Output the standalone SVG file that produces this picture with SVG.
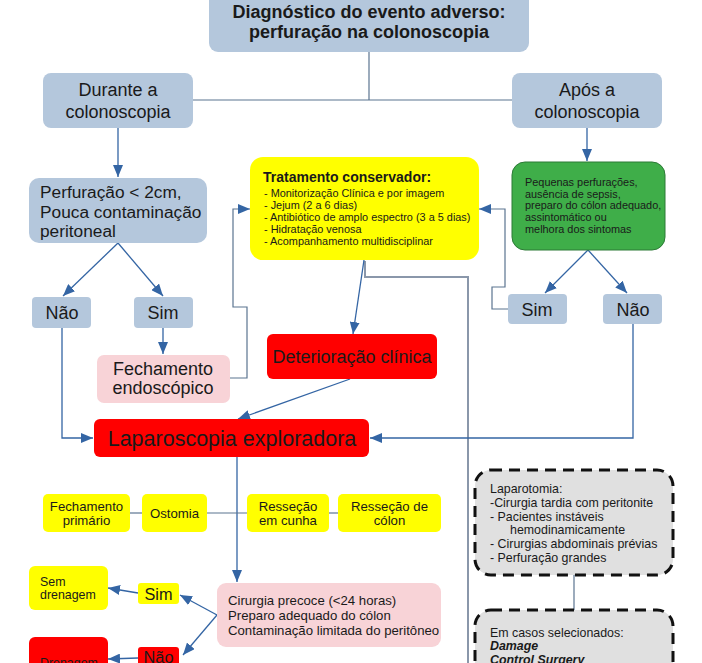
<svg xmlns="http://www.w3.org/2000/svg" width="702" height="663" viewBox="0 0 702 663">
<style>
text{font-family:"Liberation Sans",Arial,sans-serif;fill:#1a1a1a}
.gb{fill:#b4c7dc}
.yl{fill:#ffff00}
.rd{fill:#ff0000}
.pk{fill:#f8d3d7}
.c{text-anchor:middle}
.t18{font-size:18px}
.t13{font-size:13.2px}
.t11{font-size:10.9px}
.t12{font-size:12.4px}
.ln{fill:none;stroke:#3465a4;stroke-width:1.3}
.gl{fill:none;stroke:#5b7490;stroke-width:1.2}
.ar{marker-end:url(#ah)}
.dash{fill:#e0e0e0;stroke:#111;stroke-width:3;stroke-dasharray:11 7}
</style>
<defs>
<marker id="ah" markerUnits="userSpaceOnUse" markerWidth="13" markerHeight="10" refX="12" refY="5" orient="auto">
<path d="M0,0 L12,5 L0,10 z" fill="#3465a4"/>
</marker>
</defs>
<rect width="702" height="663" fill="#ffffff"/>
<g id="connectors">
<polyline class="gl" points="369,52 369,100"/>
<polyline class="gl" points="193,100 512,100"/>
<line class="ln ar" x1="118" y1="128" x2="118" y2="177"/>
<line class="ln ar" x1="118" y1="243" x2="63" y2="296"/>
<line class="ln ar" x1="118" y1="243" x2="163" y2="296"/>
<line class="ln ar" x1="163" y1="328" x2="163" y2="354"/>
<polyline class="ln ar" points="62,328 62,438 93,438"/>
<polyline class="gl ar" points="230,378 247,378 247,307 233,307 233,209 250,209"/>
<polyline fill="none" stroke="#8a97aa" stroke-width="2" points="365,261 365,277 468,277 468,670"/>
<line class="ln ar" x1="364" y1="260" x2="353" y2="334"/>
<line class="ln ar" x1="350" y1="379" x2="238" y2="419"/>
<line class="ln ar" x1="587" y1="128" x2="587" y2="161"/>
<line class="ln ar" x1="588" y1="250" x2="545" y2="293"/>
<line class="ln ar" x1="588" y1="250" x2="627" y2="293"/>
<polyline class="gl ar" points="508,309 492,309 492,287 505,287 505,209 479,209"/>
<polyline class="ln ar" points="633,324 633,438 370,438"/>
<line class="ln ar" x1="237" y1="457" x2="237" y2="582"/>
<line class="gl" x1="207" y1="513" x2="247" y2="513"/>
<line class="gl" x1="130" y1="513" x2="142" y2="513"/>
<line class="gl" x1="329" y1="513" x2="338" y2="513"/>
<line class="ln ar" x1="217" y1="615" x2="180" y2="595"/>
<line class="ln ar" x1="217" y1="615" x2="183" y2="655"/>
<line class="ln ar" x1="138" y1="593" x2="108" y2="588"/>
<line class="ln ar" x1="138" y1="658" x2="108" y2="659"/>
<line class="gl" x1="574" y1="575" x2="574" y2="610"/>
</g>
<g id="title">
<rect class="gb" x="209" y="-12" width="320" height="64" rx="9"/>
<text class="c" x="369" y="18" font-size="18" font-weight="bold">Diagnóstico do evento adverso:</text>
<text class="c" x="369" y="38" font-size="18" font-weight="bold">perfuração na colonoscopia</text>
</g>
<g id="durante">
<rect class="gb" x="43" y="73" width="150" height="55" rx="8"/>
<text class="c t18" x="118" y="96">Durante a</text>
<text class="c t18" x="118" y="118">colonoscopia</text>
</g>
<g id="apos">
<rect class="gb" x="512" y="73" width="150" height="55" rx="8"/>
<text class="c t18" x="587" y="96">Após a</text>
<text class="c t18" x="587" y="118">colonoscopia</text>
</g>
<g id="perfuracao">
<rect class="gb" x="29" y="178" width="178" height="65" rx="10"/>
<text x="40" y="198" font-size="17.3">Perfuração &lt; 2cm,</text>
<text x="40" y="218" font-size="17.3">Pouca contaminação</text>
<text x="40" y="237" font-size="17.3">peritoneal</text>
</g>
<g id="nao1">
<rect class="gb" x="32" y="297" width="59" height="31" rx="4"/>
<text class="c t18" x="62" y="319">Não</text>
</g>
<g id="sim1">
<rect class="gb" x="134" y="297" width="59" height="31" rx="4"/>
<text class="c t18" x="163" y="319">Sim</text>
</g>
<g id="fechamento-endoscopico">
<rect class="pk" x="97" y="355" width="133" height="48" rx="7"/>
<text class="c t18" x="163" y="375">Fechamento</text>
<text class="c t18" x="163" y="394">endoscópico</text>
</g>
<g id="tratamento">
<rect class="yl" x="250" y="157" width="229" height="103" rx="13"/>
<text x="263" y="182" font-size="14" font-weight="bold">Tratamento conservador:</text>
<text class="t11" x="264" y="197">- Monitorização Clínica e por imagem</text>
<text class="t11" x="264" y="209">- Jejum (2 a 6 dias)</text>
<text class="t11" x="264" y="221">- Antibiótico de amplo espectro (3 a 5 dias)</text>
<text class="t11" x="264" y="233">- Hidratação venosa</text>
<text class="t11" x="264" y="245">- Acompanhamento multidisciplinar</text>
</g>
<g id="deterioracao">
<rect class="rd" x="267" y="334" width="170" height="45" rx="6"/>
<text class="c t18" x="352" y="363">Deterioração clínica</text>
</g>
<g id="criterios">
<rect x="512" y="162" width="153" height="88" rx="13" fill="#3fae49" stroke="#2c7a36" stroke-width="1"/>
<text class="t11" x="525" y="186">Pequenas perfurações,</text>
<text class="t11" x="525" y="197.5">ausência de sepsis,</text>
<text class="t11" x="525" y="209">preparo do cólon adequado,</text>
<text class="t11" x="525" y="221">assintomático ou</text>
<text class="t11" x="525" y="233">melhora dos sintomas</text>
</g>
<g id="sim2">
<rect class="gb" x="508" y="294" width="59" height="30" rx="4"/>
<text class="c t18" x="537" y="316">Sim</text>
</g>
<g id="nao2">
<rect class="gb" x="603" y="294" width="59" height="30" rx="4"/>
<text class="c t18" x="633" y="316">Não</text>
</g>
<g id="laparoscopia">
<rect class="rd" x="94" y="419" width="275" height="38" rx="6"/>
<text class="c" x="232" y="446" font-size="21.5">Laparoscopia exploradora</text>
</g>
<g id="fechamento-primario">
<rect class="yl" x="43" y="494" width="87" height="38" rx="5"/>
<text class="c t13" x="86.5" y="511">Fechamento</text>
<text class="c t13" x="86.5" y="525">primário</text>
</g>
<g id="ostomia">
<rect class="yl" x="142" y="494" width="65" height="38" rx="5"/>
<text class="c t13" x="174.5" y="518">Ostomia</text>
</g>
<g id="ressecao-cunha">
<rect class="yl" x="247" y="494" width="82" height="38" rx="5"/>
<text class="c t13" x="288" y="511">Resseção</text>
<text class="c t13" x="288" y="525">em cunha</text>
</g>
<g id="ressecao-colon">
<rect class="yl" x="338" y="494" width="103" height="38" rx="5"/>
<text class="c t13" x="389.5" y="511">Resseção de</text>
<text class="c t13" x="389.5" y="525">cólon</text>
</g>
<g id="cirurgia">
<rect class="pk" x="217" y="583" width="224" height="64" rx="9"/>
<text class="t13" x="228" y="605">Cirurgia precoce (&lt;24 horas)</text>
<text class="t13" x="228" y="620">Preparo adequado do cólon</text>
<text class="t13" x="228" y="635">Contaminação limitada do peritôneo</text>
</g>
<g id="sim3">
<rect class="yl" x="138" y="583" width="41" height="21" rx="3"/>
<text class="c" x="158.5" y="600" font-size="16.3">Sim</text>
</g>
<g id="sem-drenagem">
<rect class="yl" x="29" y="566" width="79" height="44" rx="6"/>
<text class="t12" x="40" y="586">Sem</text>
<text class="t12" x="40" y="599">drenagem</text>
</g>
<g id="nao3">
<rect class="rd" x="138" y="647" width="41" height="25" rx="3"/>
<text class="c" x="158.5" y="663" font-size="16.3">Não</text>
</g>
<g id="drenagem">
<rect class="rd" x="29" y="637" width="79" height="40" rx="6"/>
<text class="t12" x="40" y="667">Drenagem</text>
</g>
<g id="laparotomia">
<rect class="dash" x="475" y="470" width="198" height="105" rx="16"/>
<text class="t12" x="490" y="493">Laparotomia:</text>
<text class="t12" x="490" y="507">-Cirurgia tardia com peritonite</text>
<text class="t12" x="490" y="520.5">- Pacientes instáveis</text>
<text class="t12" x="510" y="534">hemodinamicamente</text>
<text class="t12" x="490" y="548">- Cirurgias abdominais prévias</text>
<text class="t12" x="490" y="561.5">- Perfuração grandes</text>
</g>
<g id="damage-control">
<rect class="dash" x="475" y="610" width="198" height="80" rx="16"/>
<text class="t12" x="490" y="637">Em casos selecionados:</text>
<text class="t12" x="490" y="650" font-weight="bold" font-style="italic">Damage</text>
<text class="t12" x="490" y="664" font-weight="bold" font-style="italic">Control Surgery</text>
</g>
</svg>
